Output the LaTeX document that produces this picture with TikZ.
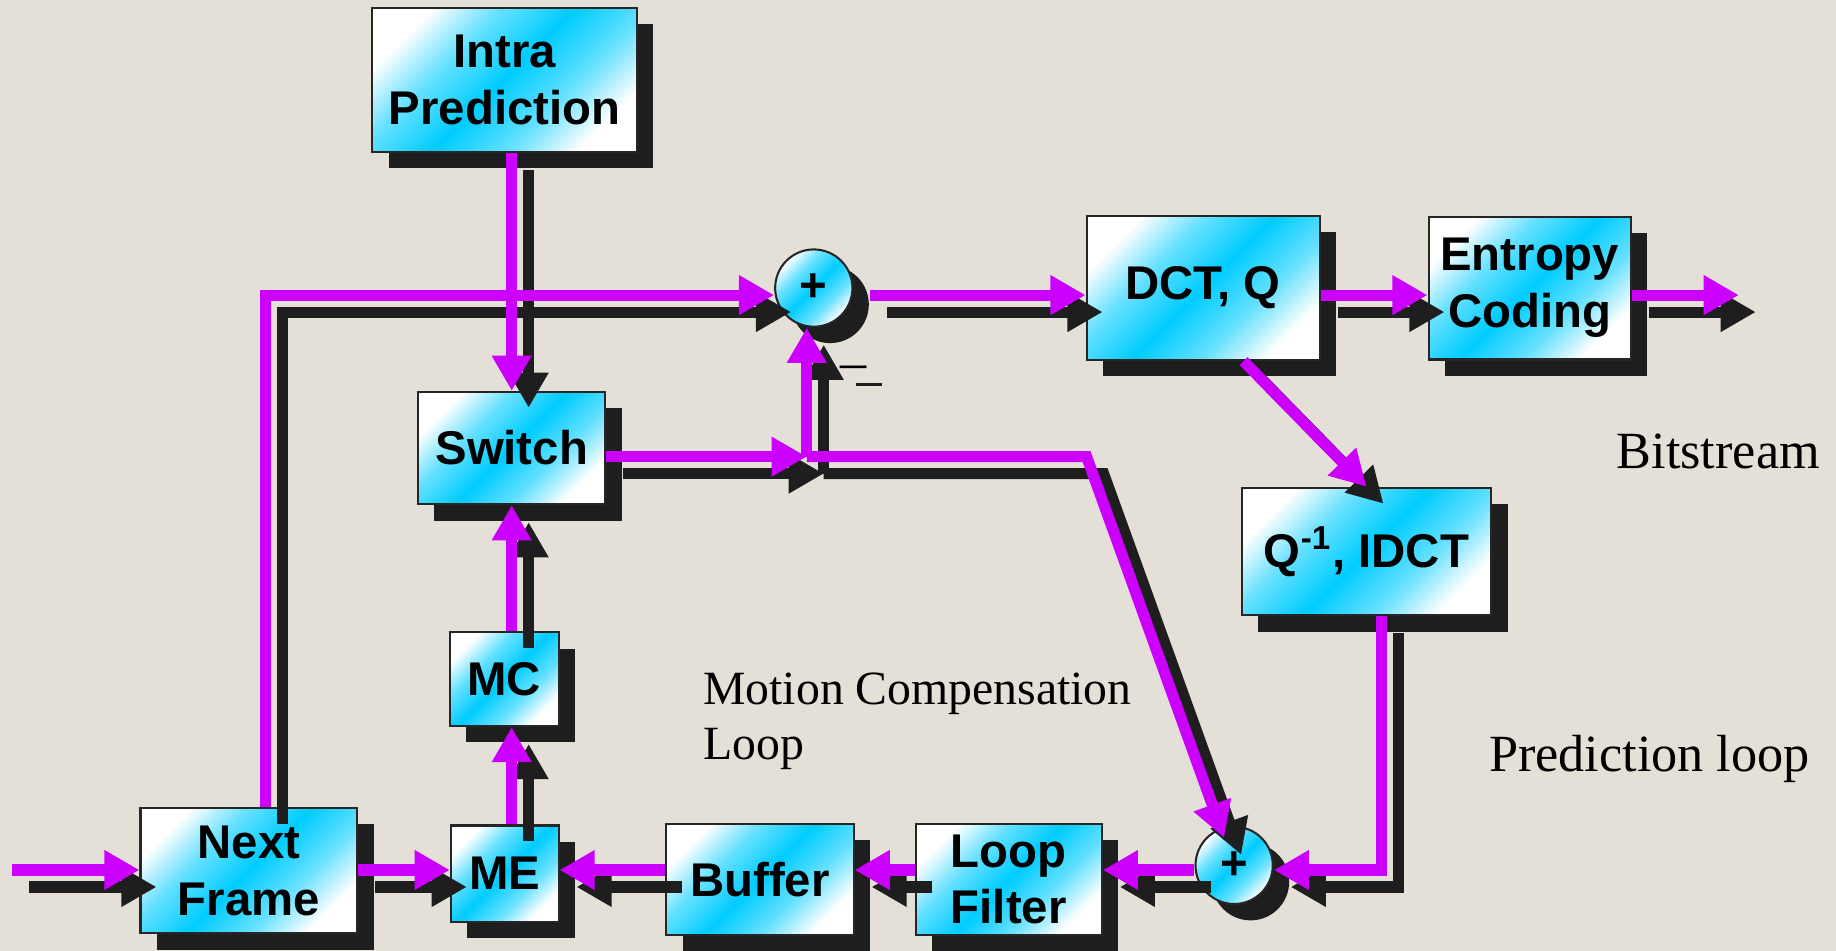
\documentclass[tikz,border=0pt]{standalone}
\usepackage{fontspec}
\setmainfont{Liberation Serif}
\setsansfont{Liberation Sans}
\usepackage{tikz}
\usetikzlibrary{arrows.meta, shadows}
\definecolor{vbg}{HTML}{E4E0D7}
\definecolor{vcyan}{HTML}{00CCFF}
\definecolor{vmag}{HTML}{CC00FF}
\definecolor{vshd}{HTML}{1E1E1E}
\pgfdeclareverticalshading{vglare}{100bp}{color(0bp)=(white); color(25bp)=(white); color(37bp)=(vcyan!60); color(50bp)=(vcyan); color(63bp)=(vcyan!60); color(75bp)=(white); color(100bp)=(white)}
\tikzset{
  vbox/.style={draw=black!85, line width=0.5pt, shading=vglare, shading angle=45,
    drop shadow={shadow xshift=1.4mm, shadow yshift=-1.4mm, fill=vshd, opacity=1},
    align=center, inner sep=0pt, font=\fontsize{11.5}{13.8}\selectfont\sffamily\bfseries},
  vsum/.style={vbox, circle, minimum size=6.6mm},
  vflow/.style={-{Triangle[length=3mm, width=3.2mm]}, line width=0.95mm, vmag, line join=miter},
  vshadow/.style={vflow, vshd, transform canvas={shift={(1.45mm,-1.45mm)}}},
  vlbl/.style={font=\fontsize{12.7}{15}\selectfont, inner sep=0pt, align=left},
}
\begin{document}
\begin{tikzpicture}[x=0.1mm, y=-0.1mm]
  \path[use as bounding box, fill=vbg] (0,0) rectangle (1568,812);
  \node[vbox, minimum width=22.6mm, minimum height=12.3mm] (intra) at (431,68) {Intra\\Prediction};
  \node[vbox, minimum width=19.9mm, minimum height=12.3mm] (dct) at (1027.5,246) {DCT, Q};
  \node[vbox, minimum width=17.3mm, minimum height=12.2mm] (entropy) at (1306.5,246) {Entropy\\Coding};
  \node[vbox, minimum width=16mm, minimum height=9.6mm] (switch) at (437,382.6) {Switch};
  \node[vbox, minimum width=21.3mm, minimum height=10.9mm] (iqdct) at (1167,471) {Q\textsuperscript{-1}, IDCT};
  \node[vbox, minimum width=9.3mm, minimum height=8mm] (mc) at (430.5,580) {MC};
  \node[vbox, minimum width=18.5mm, minimum height=10.7mm] (nf) at (212.5,743.5) {Next\\Frame};
  \node[vbox, minimum width=9.2mm, minimum height=8.2mm] (me) at (431,746) {ME};
  \node[vbox, minimum width=16mm, minimum height=9.5mm] (buffer) at (649,751) {Buffer};
  \node[vbox, minimum width=15.9mm, minimum height=9.5mm] (loopf) at (861.5,751) {Loop\\Filter};
  \node[vsum] (sum1) at (695,246) {+};
  \node[vsum] (sum2) at (1054,739) {+};
  \node[vlbl, anchor=base west] (minus) at (717,324) {\textendash};
  \draw[vshd, line width=0.25mm] (731,328) -- (753,328);
  \node[vlbl, anchor=base west] (bits) at (1380,400) {Bitstream};
  \node[vlbl, anchor=base west] (predloop) at (1271,659) {Prediction loop};
  \node[vlbl, anchor=north west, font=\fontsize{11.6}{13.4}\selectfont] (mcloop) at (600,574) {Motion Compensation\\Loop};
  \coordinate (top) at (0,252);
  \coordinate (mid) at (0,390);
  \coordinate (bot) at (0,743);
  \coordinate (in) at (10,743);
  \coordinate (out) at (1485,252);
  \coordinate (j) at (689,390);
  \coordinate (bend) at (928,390);
  \foreach \s in {vshadow,vflow}{
    \draw[\s] (in) -- (nf.west |- bot);
    \draw[\s] (nf.east |- bot) -- (me.west |- bot);
    \draw[\s] ([xshift=1.45mm]nf.north) |- (sum1.west |- top);
    \draw[\s, shorten <=1.4mm] (sum1.east |- top) -- (dct.west |- top);
    \draw[\s] (dct.east |- top) -- (entropy.west |- top);
    \draw[\s] (entropy.east |- top) -- (out);
    \draw[\s] (intra.south -| switch) -- (switch.north);
    \draw[\s] (mc.north -| switch) -- (switch.south);
    \draw[\s] (me.north -| switch) -- (mc.south -| switch);
    \draw[\s] (switch.east |- mid) -- (j);
    \draw[\s] (j) -- (j |- sum1.south);
    \draw[\s, shorten >=2.5mm] (j) -- (bend) -- (sum2.center);
    \draw[\s] ([xshift=3.45mm]dct.south) -- (iqdct.north);
    \draw[\s] ([xshift=1.3mm]iqdct.south) |- (sum2.east |- bot);
    \draw[\s] (sum2.west |- bot) -- (loopf.east |- bot);
    \draw[\s] (loopf.west |- bot) -- (buffer.east |- bot);
    \draw[\s] (buffer.west |- bot) -- (me.east |- bot);
  }
\end{tikzpicture}
\end{document}
